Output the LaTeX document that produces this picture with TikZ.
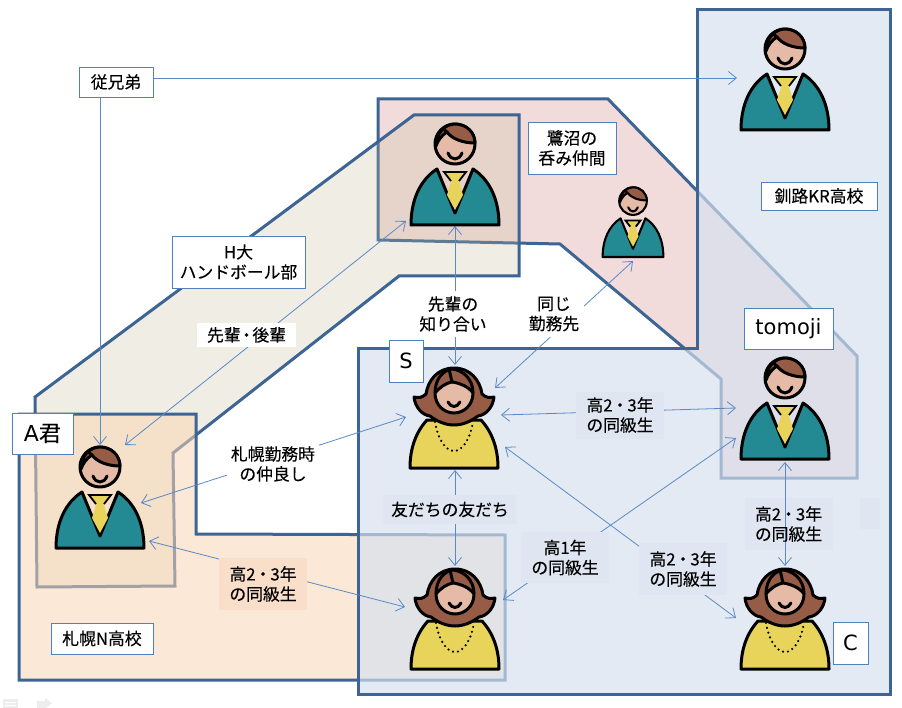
\documentclass[tikz,border=0pt]{standalone}
\usepackage{fontspec}
\setmainfont{Noto Sans CJK JP}[FakeBold=0.2]
\newfontfamily\latinf{DejaVu Sans}
\usetikzlibrary{arrows.meta}
\definecolor{edgeblue}{HTML}{3C6494}
\definecolor{linkblue}{HTML}{5A8AC6}
\definecolor{boxblue}{HTML}{4F81BD}
\definecolor{suit}{HTML}{238A94}
\definecolor{tiey}{HTML}{E8D45A}
\definecolor{skin}{HTML}{E5BBA8}
\definecolor{hairb}{HTML}{975C46}
\definecolor{regr}{HTML}{E6B9B8}
\definecolor{softb}{HTML}{DFE6F1}
\definecolor{softp}{HTML}{F9DEC9}
\definecolor{regh}{HTML}{C4BD97}
\definecolor{regn}{HTML}{FBD5B5}
\definecolor{regk}{HTML}{D6E1F0}
\def\plw{3pt}
\tikzset{
  region/.style={draw=edgeblue,line width=3pt,line join=miter},
  link/.style={draw=linkblue,line width=.8pt,{Straight Barb[length=8pt,width=13pt,line width=.8pt]}-{Straight Barb[length=8pt,width=13pt,line width=.8pt]}},
  linkone/.style={draw=linkblue,line width=.8pt,-{Straight Barb[length=8pt,width=13pt,line width=.8pt]}},
  anchorbox/.style={inner sep=0pt,minimum width=1pt,minimum height=1pt},
  txt/.style={inner sep=0pt,align=center,font=\fontsize{16.8}{20}\selectfont,text=black},
  boxlabel/.style={txt,draw=boxblue,line width=.8pt,fill=white},
  plainlabel/.style={txt,fill=white},
  softblue/.style={txt,fill=softb},
  softpeach/.style={txt,fill=softp},
  ink/.style={draw=black,line width=\plw,line join=round},
  male/.pic={
    \path[ink,fill=suit] (-44,0) .. controls (-44,-25) and (-35,-45) .. (-18,-56) -- (0,-12) -- (18,-56) .. controls (35,-45) and (44,-25) .. (44,0) -- cycle;
    \path[fill=tiey] (-10,-52) -- (10,-52) -- (4,-43) -- (8,-30) -- (0,-15) -- (-8,-30) -- (-4,-43) -- cycle;
    \path[draw=black,line width=1.8pt] (-4,-44) -- (-11,-53) -- (11,-53) -- (4,-44);
    \path[ink,fill=skin] (0,-81) circle[radius=20];
    \path[ink,fill=hairb] (-19,-79) .. controls (-19,-92) and (-10,-101) .. (0,-101) .. controls (11,-101) and (20,-93) .. (20,-82) .. controls (8,-82) and (-3,-86) .. (-8,-93) .. controls (-13,-90) and (-17,-85) .. (-19,-79) -- cycle;
    \path[ink] (-8,-93) -- (-13,-97);
    \path[ink,line cap=round] (-7,-72) .. controls (-4,-64) and (4,-64) .. (7,-72);
  },
  female/.pic={
    \path[ink,fill=tiey] (-44,0) .. controls (-44,-20) and (-38,-36) .. (-27,-48) -- (27,-48) .. controls (38,-36) and (44,-20) .. (44,0) -- cycle;
    \path[draw=black,line width=2.4pt,line cap=round,dash pattern=on 0pt off 5pt] (-19,-46) .. controls (-16,-28) and (-8,-17) .. (0,-17) .. controls (8,-17) and (16,-28) .. (19,-46);
    \path[ink,fill=hairb] (0,-100) .. controls (-16,-100) and (-26,-88) .. (-28,-74) .. controls (-32,-70) and (-36,-70) .. (-40,-71) .. controls (-39,-61) and (-32,-53) .. (-24,-52) .. controls (-16,-46) and (-8,-43) .. (0,-43) .. controls (8,-43) and (16,-46) .. (24,-52) .. controls (32,-53) and (39,-61) .. (40,-71) .. controls (36,-70) and (32,-70) .. (28,-74) .. controls (26,-88) and (16,-100) .. (0,-100) -- cycle;
    \path[ink,fill=skin] (-19,-75) .. controls (-14,-81) and (-8,-85) .. (-2,-86) .. controls (6,-85) and (15,-81) .. (19,-75) .. controls (19,-63) and (10,-55) .. (0,-55) .. controls (-10,-55) and (-19,-63) .. (-19,-75) -- cycle;
    \path[ink] (-19,-75) .. controls (-19,-90) and (-10,-98) .. (-2,-99) .. controls (8,-98) and (19,-90) .. (19,-75);
    \path[ink] (-2,-86) -- (-5,-99);
    \path[ink,line cap=round] (-6,-66) .. controls (-3,-60) and (3,-60) .. (6,-66);
  },
}
\begin{document}
\begin{tikzpicture}[x=1pt,y=-1pt]
\useasboundingbox (0,0) rectangle (902,708);
\fill[white] (0,0) rectangle (902,708);
% regions
\path[region,fill=regr,fill opacity=.5] (378,99) -- (608,99) -- (857,356) -- (857,478) -- (721,478) -- (721,379) -- (560,244) -- (378,240) -- cycle;
\path[region,fill=regh,fill opacity=.25] (35,397) -- (414,115) -- (519,115) -- (519,276) -- (399,276) -- (173,453) -- (175,586) -- (37,587) -- cycle;
\path[region,fill=regn,fill opacity=.54] (19,414) -- (196,414) -- (196,534) -- (505,535) -- (505,680) -- (19,680) -- cycle;
\path[region,fill=regk,fill opacity=.68] (697,10) -- (890,10) -- (890,694) -- (358,694) -- (358,349) -- (697,349) -- cycle;
% faint slide-show buttons
\fill[black!7] (3,699) rectangle (18,708);
\fill[white] (5,702) rectangle (16,703) (5,705) rectangle (16,706);
\fill[black!7] (37,701) -- (45,701) -- (45,698) -- (52,703) -- (46,708) -- (37,708) -- cycle;
% person anchors
\node[anchorbox] (pA) at (100,500) {};
\node[anchorbox] (pU) at (455,175) {};
\node[anchorbox] (pK) at (785,80) {};
\node[anchorbox] (pT) at (785,410) {};
\node[anchorbox] (pM) at (633,215) {};
\node[anchorbox] (pS) at (454,418) {};
\node[anchorbox] (pL) at (455,619) {};
\node[anchorbox] (pC) at (785,620) {};
\node[boxlabel,minimum width=74pt,minimum height=30pt] (cousin) at (116,82) {従兄弟};
% connectors
\draw[linkone] ([xshift=-16pt]cousin.south) -- ([shift={(0,-55)}]pA.center);
\draw[linkone] ([yshift=4pt]cousin.east) -- ([shift={(-48,-2)}]pK.center);
\draw[link] ([shift={(25,-55)}]pA.center) -- ([shift={(-49,46)}]pU.center);
\draw[link] ([shift={(0,51)}]pU.center) -- ([shift={(1,-53)}]pS.center);
\draw[link] ([shift={(0,46)}]pM.center) -- ([shift={(41,-30)}]pS.center);
\draw[link] ([shift={(41,3)}]pA.center) -- ([shift={(-48,-1)}]pS.center);
\draw[link] ([shift={(49,41)}]pA.center) -- ([shift={(-50,-12)}]pL.center);
\draw[link] ([shift={(47,-3)}]pS.center) -- ([shift={(-49,-2)}]pT.center);
\draw[link] ([shift={(1,52)}]pS.center) -- ([shift={(0,-53)}]pL.center);
\draw[link] ([shift={(-49,28)}]pT.center) -- ([shift={(48,-19)}]pL.center);
\draw[link] ([shift={(51,29)}]pS.center) -- ([shift={(-49,-2)}]pC.center);
% persons
\pic at (100,548) {male};
\pic at (455,225) {male};
\pic at (785,130) {male};
\pic at (785,459) {male};
{\def\plw{2.1pt}\pic[scale=.69] at (633,257) {male};}
\pic at (454,468) {female};
\pic at (455,669) {female};
\pic at (785,669) {female};
% boxed labels
\node[boxlabel,minimum width=61pt,minimum height=41pt] (lA) at (42.5,433.5) {\fontsize{22}{24}\selectfont{\latinf A}君};
\node[boxlabel,minimum width=102pt,minimum height=31pt] (lN) at (102,638.5) {札幌N高校};
\node[boxlabel,minimum width=133pt,minimum height=52pt] (lH) at (238.5,262) {H大\\ハンドボール部};
\node[boxlabel,minimum width=88pt,minimum height=52pt] (lD) at (572,148) {鷺沼の\\呑み仲間};
\node[boxlabel,minimum width=116pt,minimum height=28pt] (lR) at (819,196) {釧路KR高校};
\node[boxlabel,minimum width=89pt,minimum height=41pt] (lT) at (788.5,328.5) {\latinf\fontsize{21}{24}\selectfont tomoji};
\node[boxlabel,minimum width=34pt,minimum height=42pt] (lS) at (406,361) {\latinf\fontsize{21}{24}\selectfont S};
\node[boxlabel,minimum width=35pt,minimum height=42pt] (lC) at (850.5,643) {\latinf\fontsize{21}{24}\selectfont C};
% edge labels
\node[plainlabel,minimum width=99pt,minimum height=24pt] (eSenpai) at (246.5,335) {先輩\kern-2.5pt・\kern-2.5pt後輩};
\node[plainlabel,minimum width=68pt,minimum height=46pt] (eChiri) at (453,314) {先輩の\\知り合い};
\node[plainlabel,minimum width=60pt,minimum height=46pt] (eOnaji) at (554,314) {同じ\\勤務先};
\node[plainlabel,minimum width=92pt,minimum height=46pt] (eNaka) at (273,464) {札幌勤務時\\の仲良し};
\node[softpeach,minimum width=88pt,minimum height=52pt] (e1) at (263,584) {高2\kern-1pt・\kern-1pt3年\\の同級生};
\node[softblue,minimum width=88pt,minimum height=47pt] (e2) at (620,415) {高2\kern-1pt・\kern-1pt3年\\の同級生};
\node[softblue,minimum width=134pt,minimum height=29pt] (e3) at (450,509.5) {友だちの友だち};
\node[softblue,minimum width=88pt,minimum height=51pt] (e4) at (565,557.5) {高1年\\の同級生};
\node[softblue,minimum width=88pt,minimum height=52pt] (e5) at (683,569) {高2\kern-1pt・\kern-1pt3年\\の同級生};
\node[anchorbox,fill=softb,minimum width=88pt,minimum height=52pt] (e6) at (788.5,524) {};
\node[anchorbox,fill=softb,minimum width=20pt,minimum height=31pt] (e7) at (870,513.5) {};
\draw[link] ([shift={(0,52)}]pT.center) -- ([shift={(0,-54)}]pC.center);
\node[txt] (e6t) at (788.5,524) {高2\kern-1pt・\kern-1pt3年\\の同級生};
\end{tikzpicture}
\end{document}
